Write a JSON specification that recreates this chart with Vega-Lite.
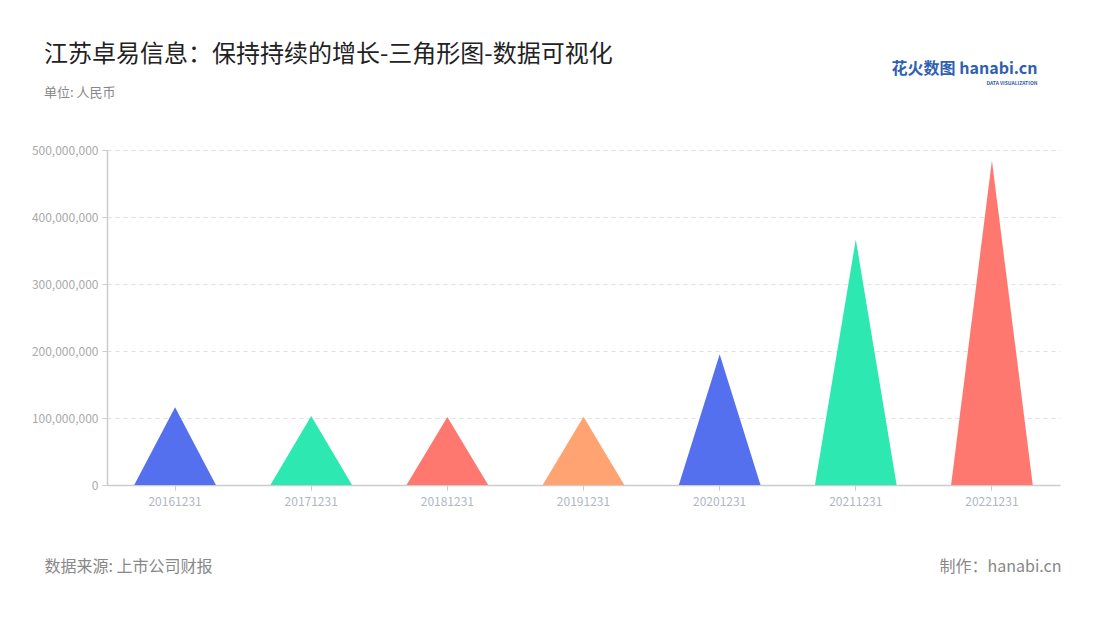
{
  "$schema": "https://vega.github.io/schema/vega-lite/v6.json",
  "width": 953,
  "height": 335,
  "autosize": {"type": "none"},
  "padding": {"left": 107, "top": 150, "right": 40, "bottom": 135},
  "background": "white",
  "config": {"font": "Noto Sans CJK SC", "view": {"stroke": null}},
  "title": {
    "text": "江苏卓易信息：保持持续的增长-三角形图-数据可视化",
    "subtitle": "单位: 人民币",
    "anchor": "start",
    "frame": "group",
    "dx": -63,
    "offset": -40,
    "fontSize": 24,
    "fontWeight": "normal",
    "color": "#222222",
    "subtitleFontSize": 13,
    "subtitleColor": "#888888",
    "subtitlePadding": 20
  },
  "data": {
    "values": [
      {"date": "20161231", "start": 0, "value": 116000000, "end": 0},
      {"date": "20171231", "start": 0, "value": 103000000, "end": 0},
      {"date": "20181231", "start": 0, "value": 101500000, "end": 0},
      {"date": "20191231", "start": 0, "value": 102000000, "end": 0},
      {"date": "20201231", "start": 0, "value": 195000000, "end": 0},
      {"date": "20211231", "start": 0, "value": 366500000, "end": 0},
      {"date": "20221231", "start": 0, "value": 484500000, "end": 0}
    ]
  },
  "transform": [{"fold": ["start", "value", "end"], "as": ["vertex", "amount"]}],
  "layer": [
    {
      "mark": {"type": "area", "interpolate": "linear", "opacity": 1},
      "encoding": {
        "x": {
          "field": "date",
          "type": "nominal",
          "scale": {"paddingInner": 0.4, "paddingOuter": 0.2},
          "axis": {
            "labelAngle": 0,
            "labelColor": "#b0b6c3",
            "labelFontSize": 12,
            "labelPadding": 6,
            "domainColor": "#cccccc",
            "domainWidth": 1.5,
            "tickColor": "#cccccc",
            "tickSize": 5,
            "grid": false,
            "title": "数据来源: 上市公司财报",
            "titleFontSize": 16,
            "titleFontWeight": "normal",
            "titleColor": "#888888",
            "titleAnchor": null,
            "titleAlign": "left",
            "titleBaseline": "alphabetic",
            "titleX": -63,
            "titleY": 86
          }
        },
        "xOffset": {
          "field": "vertex",
          "type": "nominal",
          "sort": ["start", "value", "end"],
          "scale": {"type": "point", "padding": 0}
        },
        "y": {
          "field": "amount",
          "type": "quantitative",
          "scale": {"domain": [0, 500000000], "nice": false},
          "axis": {
            "values": [0, 100000000, 200000000, 300000000, 400000000, 500000000],
            "format": ",d",
            "labelColor": "#aaaaaa",
            "labelFontSize": 12,
            "labelPadding": 4,
            "domainColor": "#cccccc",
            "domainWidth": 1.5,
            "tickColor": "#cccccc",
            "tickSize": 5,
            "grid": true,
            "gridColor": "#e0e0e0",
            "gridDash": [4, 4],
            "title": "制作：hanabi.cn",
            "titleAngle": 0,
            "titleFontSize": 16,
            "titleFontWeight": "normal",
            "titleColor": "#888888",
            "titleAnchor": null,
            "titleAlign": "right",
            "titleBaseline": "alphabetic",
            "titleX": 954,
            "titleY": 421
          }
        },
        "color": {
          "field": "date",
          "type": "nominal",
          "scale": {"range": ["#5470ee", "#2ee8b1", "#ff7870", "#ffa372", "#5470ee", "#2ee8b1", "#ff7870"]},
          "legend": null
        }
      }
    },
    {
      "mark": {"type": "rule", "opacity": 0},
      "encoding": {
        "x": {
          "field": "date",
          "type": "nominal",
          "axis": {
            "orient": "top",
            "labels": false,
            "ticks": false,
            "domain": false,
            "grid": false,
            "title": "DATA VISUALIZATION",
            "titleFontSize": 5,
            "titleFontWeight": "bold",
            "titleColor": "#2f5fb3",
            "titleAnchor": null,
            "titleAlign": "right",
            "titleBaseline": "alphabetic",
            "titleX": 930,
            "titleY": -66
          }
        },
        "y": {
          "field": "amount",
          "type": "quantitative",
          "axis": {
            "orient": "right",
            "labels": false,
            "ticks": false,
            "domain": false,
            "grid": false,
            "title": "花火数图 hanabi.cn",
            "titleAngle": 0,
            "titleFontSize": 16,
            "titleFontWeight": "bold",
            "titleColor": "#2f5fb3",
            "titleAnchor": null,
            "titleAlign": "right",
            "titleBaseline": "alphabetic",
            "titleX": -23,
            "titleY": -77
          }
        }
      }
    }
  ],
  "resolve": {"scale": {"x": "independent", "y": "independent"}}
}
